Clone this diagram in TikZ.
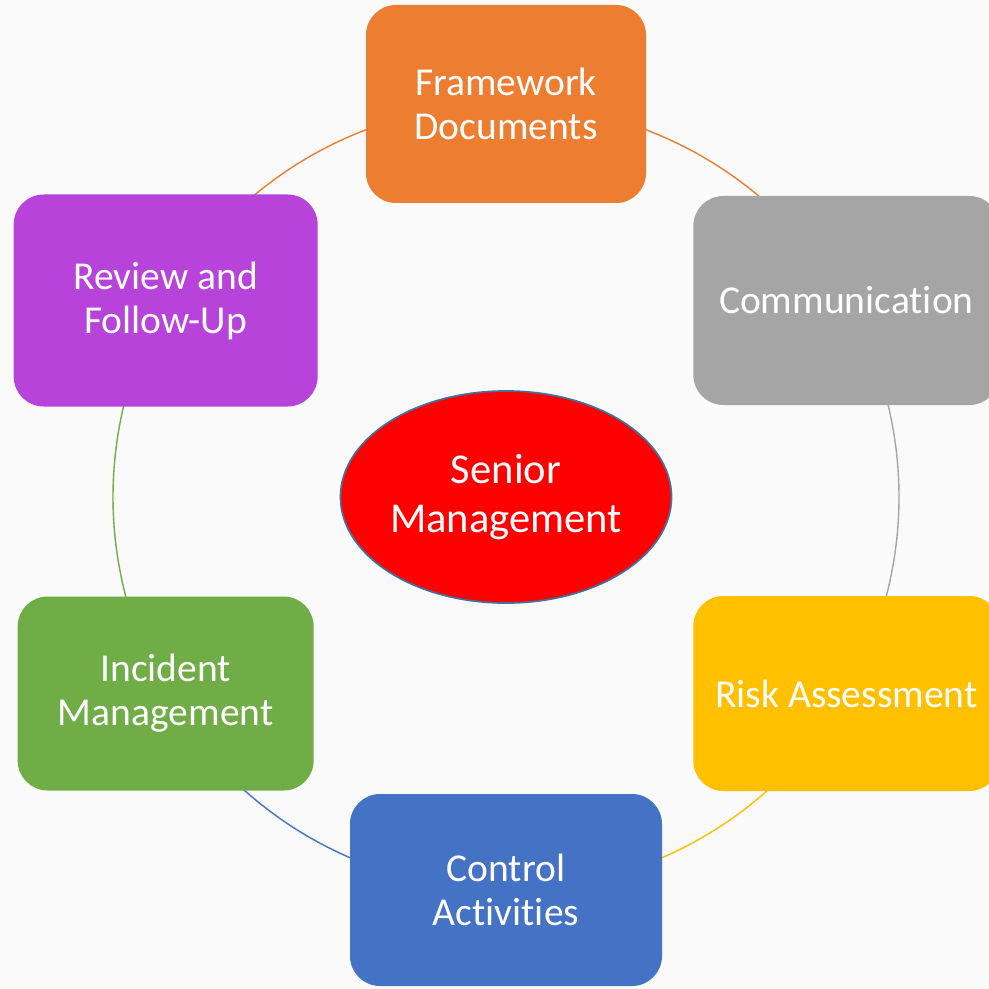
\documentclass[tikz,border=0pt]{standalone}
\usepackage{fontspec}
\setmainfont[Ligatures=NoCommon]{Carlito}
\usetikzlibrary{shapes.geometric}
\definecolor{pagegray}{HTML}{FAFAFA}
\definecolor{fwOrange}{HTML}{ED7D31}
\definecolor{comGray}{HTML}{A5A5A5}
\definecolor{riskGold}{HTML}{FFC000}
\definecolor{ctrlBlue}{HTML}{4472C4}
\definecolor{incGreen}{HTML}{70AD47}
\definecolor{revPurple}{HTML}{B843DB}
\definecolor{rimBlue}{HTML}{41719C}
\pgfdeclarelayer{back}
\pgfsetlayers{back,main}
\tikzset{
  stage/.style={
    rectangle, rounded corners=0.6cm,
    text=white, align=center,
    font=\fontsize{22.5}{25}\selectfont
  },
  ring/.style={line width=0.8pt}
}

\begin{document}
\begin{tikzpicture}
\useasboundingbox (0,0) rectangle (19.78,19.76);
\begin{pgfonlayer}{back}
\fill[pagegray] (0,0) rectangle (19.78,19.76);
\end{pgfonlayer}

\coordinate (c) at (10.12,9.82);
\def\R{7.86}

% ------------------------------------------------
% outer stages, counterclockwise from the top
% ------------------------------------------------

\node[stage, fill=fwOrange, minimum width=5.6cm, minimum height=3.96cm]
  (fw) at ([shift={(90:\R)}]c) {Framework\\Documents};

\node[stage, fill=revPurple, minimum width=6.08cm, minimum height=4.24cm]
  (rev) at ([shift={(150:\R)}]c) {Review and\\Follow-Up};

\node[stage, fill=incGreen, minimum width=5.92cm, minimum height=3.88cm]
  (inc) at ([shift={(210:\R)}]c) {Incident\\Management};

\node[stage, fill=ctrlBlue, minimum width=6.24cm, minimum height=3.84cm]
  (ctrl) at ([shift={(270:\R)}]c) {Control\\Activities};

\node[stage, fill=riskGold, minimum width=6.12cm, minimum height=3.9cm]
  (risk) at ([shift={(330:\R)}]c) {Risk Assessment};

\node[stage, fill=comGray, minimum width=6.12cm, minimum height=4.18cm]
  (com) at ([shift={(30:\R)}]c) {Communication};

% centre
\node[ellipse, draw=rimBlue, line width=1pt, fill=red, inner sep=0pt,
  minimum width=6.62cm, minimum height=4.24cm,
  text=white, align=center, font=\fontsize{24.2}{27.8}\selectfont]
  (sm) at (c) {Senior\\Management};

% ------------------------------------------------
% ring between the stages (behind the boxes)
% ------------------------------------------------
\begin{pgfonlayer}{back}
\draw[ring, fwOrange] (fw.center) arc[start angle=90, end angle=150, radius=\R];
\draw[ring, fwOrange] (fw.center) arc[start angle=90, end angle=30, radius=\R];
\draw[ring, comGray] (com.center) arc[start angle=30, end angle=-30, radius=\R];
\draw[ring, riskGold] (risk.center) arc[start angle=-30, end angle=-90, radius=\R];
\draw[ring, ctrlBlue] (ctrl.center) arc[start angle=270, end angle=210, radius=\R];
\draw[ring, incGreen] (inc.center) arc[start angle=210, end angle=150, radius=\R];
\end{pgfonlayer}

\end{tikzpicture}
\end{document}
